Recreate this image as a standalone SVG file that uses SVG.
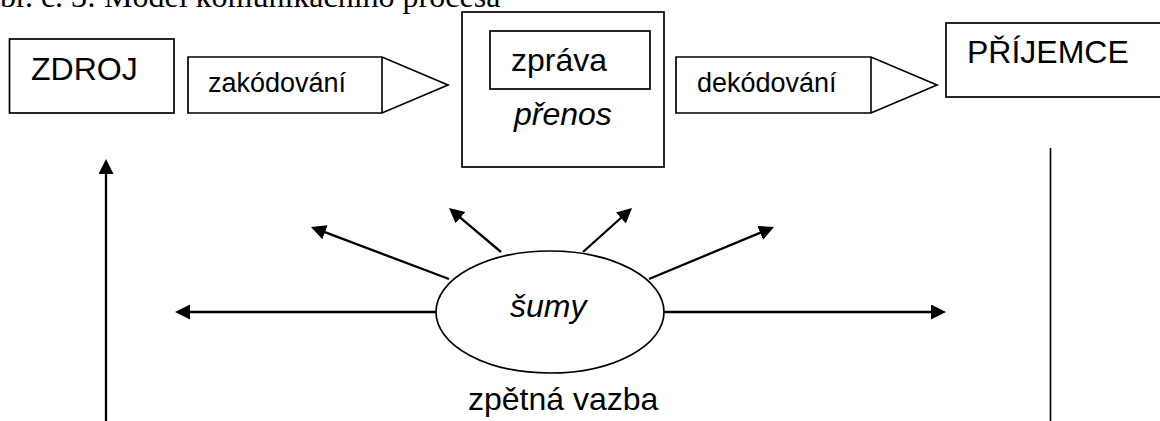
<svg xmlns="http://www.w3.org/2000/svg" width="1160" height="421" viewBox="0 0 1160 421">
  <defs>
    <style>
      .box { fill: #fff; stroke: #000; stroke-width: 1.7; }
      .lbl { font-family: "Liberation Sans", Arial, sans-serif; font-size: 32px; fill: #000; }
      .sm { font-size: 27px; }
      .it { font-style: italic; }
      .title { font-family: "Liberation Serif", "Times New Roman", serif; font-size: 32px; fill: #000; }
      .arr { stroke: #000; stroke-width: 2.3; fill: none; marker-end: url(#head); }
      .ln { stroke: #000; stroke-width: 1.6; fill: none; }
    </style>
    <marker id="head" markerUnits="userSpaceOnUse" markerWidth="16" markerHeight="16" refX="3" refY="7.5" orient="auto">
      <path d="M0,0 L15,7.5 L0,15 z" fill="#000"/>
    </marker>
  </defs>
  <rect width="1160" height="421" fill="#fff"/>

  <text class="title" x="0" y="6.5">br. č. 3: Model komunikačního procesa</text>

  <g id="zdroj">
    <rect class="box" x="9.5" y="39" width="164.5" height="74"/>
    <text class="lbl" x="31" y="80">ZDROJ</text>
  </g>

  <g id="zakodovani">
    <polygon class="box" points="188,57 382,57 448,85 382,113 188,113"/>
    <line class="ln" x1="382" y1="57" x2="382" y2="113"/>
    <text class="lbl sm" x="208" y="92">zakódování</text>
  </g>

  <g id="prenos">
    <rect class="box" x="462" y="12" width="202" height="155"/>
    <text class="lbl it" x="514" y="125">přenos</text>
  </g>

  <g id="zprava">
    <rect class="box" x="490" y="31" width="160" height="58"/>
    <text class="lbl" x="511" y="71">zpráva</text>
  </g>

  <g id="dekodovani">
    <polygon class="box" points="676,57 871,57 937,85 871,113 676,113"/>
    <line class="ln" x1="871" y1="57" x2="871" y2="113"/>
    <text class="lbl sm" x="697" y="92">dekódování</text>
  </g>

  <g id="prijemce">
    <rect class="box" x="946" y="23" width="230" height="74"/>
    <text class="lbl" x="967" y="63">PŘÍJEMCE</text>
  </g>

  <g id="sumy">
    <ellipse class="box" cx="550" cy="312" rx="114" ry="61"/>
    <text class="lbl it" x="510" y="317">šumy</text>
  </g>

  <g id="connectors">
    <line class="arr" x1="106" y1="421" x2="106" y2="171"/>
    <line class="ln" x1="1050.5" y1="148" x2="1050.5" y2="421"/>
    <line class="arr" x1="436" y1="312" x2="187" y2="312"/>
    <line class="arr" x1="664" y1="312" x2="934" y2="312"/>
    <line class="arr" x1="449" y1="279" x2="322.2" y2="231.2"/>
    <line class="arr" x1="501" y1="252" x2="458.2" y2="215.8"/>
    <line class="arr" x1="583" y1="252" x2="623.1" y2="216"/>
    <line class="arr" x1="649" y1="279" x2="762.9" y2="231.6"/>
  </g>

  <text class="lbl" x="468" y="410">zpětná vazba</text>
</svg>
